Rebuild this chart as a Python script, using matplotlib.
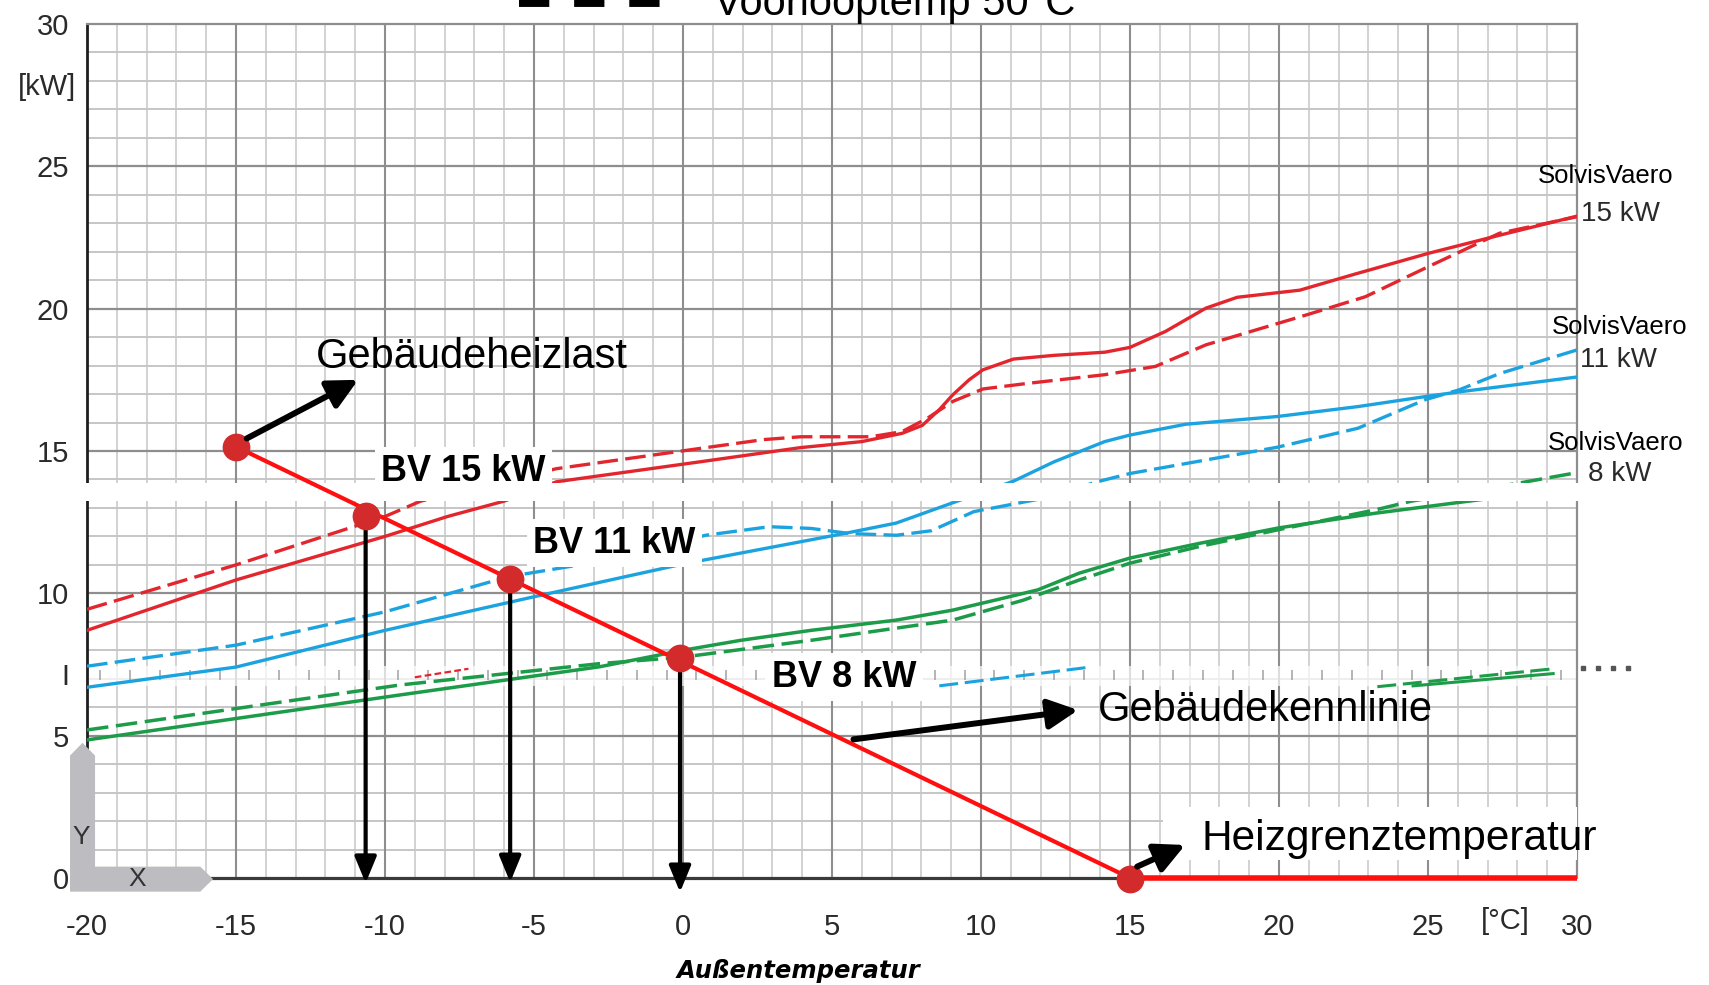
import numpy as np
import matplotlib
matplotlib.use("Agg")
import matplotlib.pyplot as plt
from matplotlib.patches import Polygon, Rectangle
from matplotlib.lines import Line2D

plt.rcParams['font.family'] = ['Liberation Sans', 'DejaVu Sans']

# --- Werte (Außentemperatur °C / Leistung kW) ---
x_ticks = [-20, -15, -10, -5, 0, 5, 10, 15, 20, 25, 30]
y_ticks = [0, 5, 10, 15, 20, 25, 30]

# SolvisVaero 15 kW
rs_T = [-20, -15, -10, -7.9, -6, -4.24, 0.57, 3.95, 6, 7.35, 8.03, 8.6, 9.05, 9.6, 10.06, 11.09,
        12.45, 14.15, 15, 16.19, 17.55, 18.6, 20.7, 22.5, 25, 27.4, 30]
rs_P = [8.7, 10.47, 12.0, 12.7, 13.24, 13.92, 14.62, 15.12, 15.33, 15.62, 15.9, 16.45, 16.97, 17.5, 17.85, 18.23,
        18.36, 18.47, 18.64, 19.2, 20.02, 20.4, 20.65, 21.2, 21.94, 22.58, 23.25]
rd_T = [-20, -15, -10, -8.8, -4.24, 0.57, 2.7, 3.95, 6.3, 7.35, 8.2, 9.05, 10.07, 11.6,
        14.15, 15.85, 17.55, 19.25, 20.95, 22.9, 25, 27.4, 30]
rd_P = [9.44, 11.0, 12.7, 13.24, 14.38, 15.09, 15.4, 15.5, 15.5, 15.68, 16.15, 16.74, 17.18, 17.38,
        17.68, 17.97, 18.73, 19.26, 19.79, 20.42, 21.47, 22.65, 23.23]

# SolvisVaero 11 kW
bs_T = [-20, -15, -10, -5, 0, 5.5, 7.16, 9.05, 11.09, 12.45, 14.15, 15, 16.87, 19.93,
        22.65, 24.9, 26.07, 30]
bs_P = [6.7, 7.41, 8.7, 9.88, 11.03, 12.12, 12.47, 13.18, 13.94, 14.62, 15.33, 15.56, 15.94, 16.21,
        16.56, 16.91, 17.08, 17.6]
bd_T = [-20, -15, -10, -5.84, -3.0, 0.76, 2.9, 4.3, 5.6, 7.16, 8.34, 9.76, 11.9, 13.98, 15,
        17.2, 19.93, 22.65, 24.9, 26.05, 27.4, 30]
bd_P = [7.44, 8.18, 9.35, 10.59, 11.08, 12.04, 12.34, 12.28, 12.1, 12.04, 12.2, 12.87, 13.3, 13.94, 14.21,
        14.62, 15.13, 15.8, 16.8, 17.15, 17.72, 18.55]

# SolvisVaero 8 kW
gs_T = [-20, -9.5, -2.8, 0, 1.94, 4.3, 7.16, 9.05, 10.47, 11.9, 13.3, 15, 17.35, 20, 23.27, 27.2]
gs_P = [4.85, 6.43, 7.42, 8.0, 8.35, 8.7, 9.06, 9.41, 9.76, 10.12, 10.71, 11.24, 11.76, 12.3, 12.82, 13.35]
gd_T = [-20, -9.5, -2.8, 0, 4.3, 9.05, 11.42, 13.3, 15, 17.35, 20, 23.27, 24.45, 27.98, 30]
gd_P = [5.2, 6.78, 7.53, 7.76, 8.35, 9.06, 9.76, 10.47, 11.06, 11.65, 12.24, 12.94, 13.24, 13.86, 14.24]

# Gebäudekennlinie und Schnittpunkte
kl_T = [-15, 15, 30]
kl_P = [15.15, 0, 0]
dot_T = [-15, -10.65, -5.8, -0.1, 15]
dot_P = [15.15, 12.72, 10.5, 7.72, -0.05]
drop_T = [-10.65, -5.8, -0.1]
drop_from = [12.72, 10.5, 7.72]
drop_to = [-0.18, -0.15, -0.5]

# Bruchstücke im eingeklebten Streifen
frag_red_T, frag_red_P = [-9.0, -7.2], [7.05, 7.35]
frag_blue_T, frag_blue_P = [8.6, 13.6], [6.75, 7.4]
frag_green1_T, frag_green1_P = [23.3, 29.2], [6.72, 7.35]
frag_green2_T, frag_green2_P = [24.5, 29.2], [6.75, 7.18]
frag_dots_T = [30.2, 30.7, 31.2, 31.7]

RED = '#e3262e'
BLUE = '#1ba3e0'
GREEN = '#1c9b48'
LINE_RED = '#ff1010'
DOT_RED = '#d32b2b'

fig = plt.figure(figsize=(17.09, 9.85), dpi=100)
ax = fig.add_axes([87 / 1709, 1 - 878 / 985, 1490 / 1709, 854 / 985])
ax.set_xlim(-20, 30)
ax.set_ylim(0, 30)
for s in ax.spines.values():
    s.set_visible(False)

# Raster
ax.vlines(np.arange(-19, 30, 1), 0, 30, colors='#c6c6c6', lw=1.1, zorder=0.5)
ax.hlines(np.arange(1, 30, 1), -20, 30, colors='#c6c6c6', lw=1.4, zorder=0.5)
ax.vlines(np.arange(-15, 30, 5), 0, 30, colors='#8e8e8e', lw=1.5, zorder=0.6)
ax.hlines(np.arange(5, 30, 5), -20, 30, colors='#8e8e8e', lw=1.6, zorder=0.6)

# Streifen mit Teilstrichen
ax.add_patch(Rectangle((-20, 6.75), 50, 0.7, fc='white', ec='none', alpha=0.7, zorder=0.8))
ax.vlines(np.arange(-20, 30, 1) + 0.45, 6.95, 7.3, colors='#a8a8a8', lw=1.2, zorder=0.9)

# Achsrahmen
ax.plot([-20, -20], [4.5, 30], color='#1e1e1e', lw=2, zorder=1.5, clip_on=False, solid_capstyle='butt')
ax.plot([-20, 30], [30, 30], color='#8e8e8e', lw=1.6, zorder=1.5, clip_on=False)
ax.plot([30, 30], [0, 30], color='#8e8e8e', lw=1.6, zorder=1.5, clip_on=False)
ax.plot([-20, 15], [0, 0], color='#3a3a3a', lw=2.3, zorder=1.5, clip_on=False)

# Leistungskurven
dash = (6.2, 2.2)
ax.plot(rs_T, rs_P, color=RED, lw=2.4, zorder=2)
ax.plot(rd_T, rd_P, color=RED, lw=2.4, dashes=dash, zorder=2)
ax.plot(bs_T, bs_P, color=BLUE, lw=2.4, zorder=2)
ax.plot(bd_T, bd_P, color=BLUE, lw=2.4, dashes=dash, zorder=2)
ax.plot(gs_T, gs_P, color=GREEN, lw=2.5, zorder=2)
ax.plot(gd_T, gd_P, color=GREEN, lw=2.5, dashes=dash, zorder=2)

ax.plot(frag_red_T, frag_red_P, color=RED, lw=1.6, dashes=(3, 1.5), zorder=2)
ax.plot(frag_blue_T, frag_blue_P, color=BLUE, lw=2.2, dashes=dash, zorder=2)
ax.plot(frag_green1_T, frag_green1_P, color=GREEN, lw=2.2, dashes=dash, zorder=2)
ax.plot(frag_green2_T, frag_green2_P, color=GREEN, lw=2.2, zorder=2)
ax.plot(frag_dots_T, [7.37] * len(frag_dots_T), 's', ms=2.5, color='#555555', clip_on=False, zorder=2)

# Beschriftungen der Wärmepumpen
box = dict(boxstyle='square,pad=0.18', fc='white', ec='none')
ax.text(-10.13, 13.95, 'BV 15 kW', fontsize=26, fontweight='bold', ha='left', va='baseline', bbox=box, zorder=3)
ax.text(-5.02, 11.43, 'BV 11 kW', fontsize=26, fontweight='bold', ha='left', va='baseline', bbox=box, zorder=3)
ax.text(2.98, 6.72, 'BV 8 kW', fontsize=26, fontweight='bold', ha='left', va='baseline', bbox=box, zorder=3)

for name_T, name_P, kw_T, kw_P, kw in [(28.69, 24.66, 30.15, 23.32, '15 kW'),
                                       (29.15, 19.37, 30.1, 18.19, '11 kW'),
                                       (29.03, 15.29, 30.37, 14.19, '8 kW')]:
    ax.text(name_T, name_P, 'SolvisVaero', fontsize=18.5, ha='left', va='center', clip_on=False, zorder=3)
    ax.text(kw_T, kw_P, kw, fontsize=20, color='#2a2a2a', ha='left', va='center', clip_on=False, zorder=3)

ax.add_patch(Rectangle((16.1, 0.63), 13.9, 1.87, fc='white', ec='none', zorder=3))

# weiße Lücke zwischen den zusammengesetzten Bildern
ax.add_patch(Rectangle((-26, 13.24), 62, 0.64, fc='white', ec='none', zorder=4, clip_on=False))

# Gebäudekennlinie
ax.plot(kl_T[:2], kl_P[:2], color=LINE_RED, lw=3, zorder=5, clip_on=False)
ax.plot(kl_T[1:], kl_P[1:], color=LINE_RED, lw=4, zorder=5, clip_on=False, solid_capstyle='butt')

for t, p0, p1 in zip(drop_T, drop_from, drop_to):
    ax.annotate('', xy=(t, p1), xytext=(t, p0), annotation_clip=False, zorder=5.5,
                arrowprops=dict(arrowstyle='-|>,head_length=0.8,head_width=0.33', mutation_scale=20,
                                lw=3, color='black', shrinkA=0, shrinkB=0))

ax.plot(dot_T, dot_P, 'o', ms=20, color=DOT_RED, mec='none', zorder=6, clip_on=False)

big_arrow = dict(arrowstyle='-|>,head_length=0.9,head_width=0.45', mutation_scale=20,
                 lw=4.3, color='black', shrinkA=0, shrinkB=0)
ax.annotate('', xy=(-10.9, 17.5), xytext=(-14.64, 15.44), arrowprops=big_arrow, zorder=6, annotation_clip=False)
ax.annotate('', xy=(13.26, 5.9), xytext=(5.72, 4.87), arrowprops=big_arrow, zorder=6, annotation_clip=False)
ax.annotate('', xy=(16.85, 1.16), xytext=(15.24, 0.4), arrowprops=big_arrow, zorder=6, annotation_clip=False)

ax.text(-12.32, 17.9, 'Gebäudeheizlast', fontsize=30, ha='left', va='baseline', zorder=7)
ax.text(13.93, 5.5, 'Gebäudekennlinie', fontsize=30, ha='left', va='baseline', zorder=7)
ax.text(17.41, 0.98, 'Heizgrenztemperatur', fontsize=30.5, ha='left', va='baseline', zorder=7, clip_on=False)

# X/Y-Symbol unten links
xy_icon = Polygon([(-20.57, -0.48), (-16.2, -0.48), (-15.77, -0.04), (-16.2, 0.4), (-19.73, 0.4),
                   (-19.73, 4.3), (-20.15, 4.75), (-20.57, 4.3)],
                  closed=True, fc='#bdbdc1', ec='none', zorder=3, clip_on=False)
ax.add_patch(xy_icon)
ax.text(-20.18, 1.45, 'Y', fontsize=19, color='#333333', ha='center', va='center', zorder=3.5)
ax.text(-18.3, -0.05, 'X', fontsize=19, color='#333333', ha='center', va='center', zorder=3.5, clip_on=False)

# Achsbeschriftungen
ax.set_xticks(x_ticks)
ax.set_xticklabels([str(v) for v in x_ticks])
ax.set_yticks(y_ticks)
ax.set_yticklabels([str(v) for v in y_ticks])
ax.tick_params(axis='x', length=0, pad=25, labelsize=21, labelcolor='#2a2a2a')
ax.tick_params(axis='y', length=0, pad=13, labelsize=21, labelcolor='#2a2a2a')
ax.text(-20.35, 27.8, '[kW]', fontsize=21, color='#2a2a2a', ha='right', va='center', clip_on=False)
ax.text(-20.74, 7.05, 'I', fontsize=21, color='#2a2a2a', ha='center', va='center', clip_on=False)
ax.text(27.58, -1.51, '[°C]', fontsize=21, color='#2a2a2a', ha='center', va='center', clip_on=False)
ax.text(3.89, -3.25, 'Außentemperatur', fontsize=17.5, fontweight='bold', fontstyle='italic',
        family='DejaVu Sans', ha='center', va='center', clip_on=False)

# Legendenrest oben (abgeschnitten)
fig.add_artist(Line2D([519 / 1709, 660 / 1709], [1, 1], lw=10, color='black',
                      dashes=(2.18, 1.79), dash_capstyle='butt'))
fig.text(714 / 1709, 1 - 15 / 985, 'Voorlooptemp 50°C', fontsize=30, ha='left', va='baseline')

fig.savefig('out.png', dpi=100)
